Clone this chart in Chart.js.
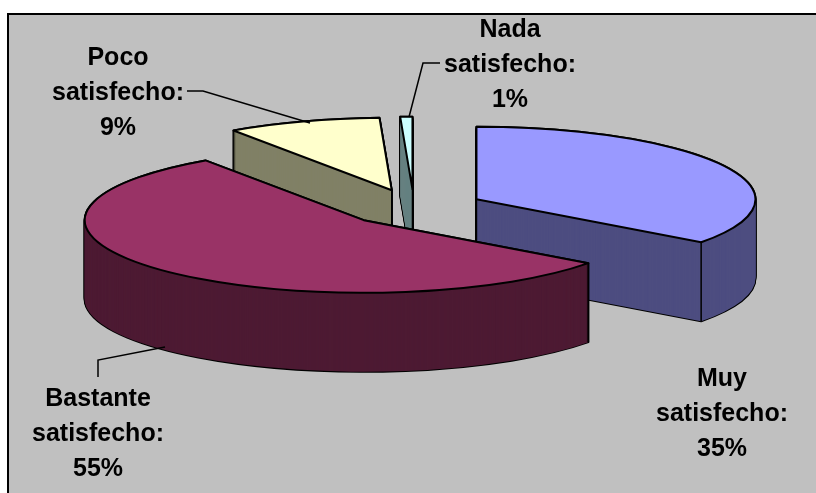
<!DOCTYPE html>
<html>
<head>
<meta charset="utf-8">
<style>
  html, body { margin: 0; padding: 0; background: #fff; }
  canvas { display: block; }
</style>
<script src="https://cdn.jsdelivr.net/npm/chart.js@4"></script>
</head>
<body>
<canvas id="chart" width="816" height="493"></canvas>
<script>
const categories = ['Muy satisfecho', 'Bastante satisfecho', 'Poco satisfecho', 'Nada satisfecho'];
const values = [35.1, 55.3, 8.9, 0.7];
const topColors = ['#9999ff', '#993366', '#ffffcc', '#ccffff'];
const sideColors = ['#4d4d80', '#4d1a33', '#808066', '#668080'];
const drawOrder = [3, 2, 0, 1];

const tilt = 0.26;
const depth = 79;
const explode = 70;

// label centres and leader lines, same order as categories
const labelPos = [[722, 378], [98, 398], [118, 57], [510, 29]];
const leaders = [
  null,
  [[98, 377], [98, 360], [165, 347]],
  [[187, 91], [203, 91], [310, 123]],
  [[440, 63], [423, 63], [409, 117]]
];

/* exploded shift of a slice, before squashing */
function shift(el) {
  const mid = (el.startAngle + el.endAngle) / 2;
  return [Math.cos(mid) * explode, Math.sin(mid) * explode];
}

/* slice outline, in the squashed space */
function slicePath(ctx, el, dy) {
  const s = shift(el);
  const x = el.x + s[0];
  const y = el.y + s[1] + dy / tilt;
  ctx.beginPath();
  ctx.moveTo(x, y);
  ctx.arc(x, y, el.outerRadius, el.startAngle, el.endAngle);
  ctx.closePath();
}

const pie3d = {
  id: 'pie3d',
  beforeDraw(chart) {
    const ctx = chart.ctx;
    ctx.save();
    ctx.fillStyle = '#c0c0c0';
    ctx.fillRect(8, 14, 808, 479);
    ctx.strokeStyle = '#000';
    ctx.lineWidth = 2;
    ctx.beginPath();
    ctx.moveTo(8, 493);
    ctx.lineTo(8, 14);
    ctx.lineTo(816, 14);
    ctx.stroke();
    ctx.restore();
  },
  beforeDatasetDraw(chart) {
    const ctx = chart.ctx;
    const meta = chart.getDatasetMeta(0);
    const squash = () => {
      const cy = meta.data[0].y;
      ctx.translate(0, cy);
      ctx.scale(1, tilt);
      ctx.translate(0, -cy);
    };
    ctx.save();
    ctx.lineJoin = 'round';
    ctx.strokeStyle = '#000';
    drawOrder.forEach(i => {
      const el = meta.data[i];

      // black outline of the whole extruded slice
      ctx.lineWidth = 2;
      for (let d = depth; d >= 0; d--) {
        ctx.save();
        squash();
        slicePath(ctx, el, d);
        ctx.restore();
        ctx.stroke();
      }
      // walls
      ctx.fillStyle = sideColors[i];
      for (let d = depth; d >= 0; d--) {
        ctx.save();
        squash();
        slicePath(ctx, el, d);
        ctx.fill();
        ctx.restore();
      }
      // vertical edges: apex and front corners only
      const s = shift(el);
      const ax = el.x + s[0];
      const ay = el.y + s[1];
      const corners = [];
      [el.startAngle, el.endAngle].forEach(a => {
        if (Math.sin(a) > 0) corners.push([ax + Math.cos(a) * el.outerRadius, ay + Math.sin(a) * el.outerRadius]);
      });
      if (el.endAngle - el.startAngle < Math.PI) corners.push([ax, ay]);
      ctx.lineWidth = 1.5;
      corners.forEach(c => {
        const py = el.y + (c[1] - el.y) * tilt;
        ctx.beginPath();
        ctx.moveTo(c[0], py);
        ctx.lineTo(c[0], py + depth);
        ctx.stroke();
      });

      // top face: the library's own arc
      ctx.save();
      squash();
      ctx.save();
      ctx.translate(s[0], s[1]);
      el.draw(ctx);
      ctx.restore();
      slicePath(ctx, el, 0);
      ctx.restore();
      ctx.lineWidth = 2;
      ctx.stroke();
    });
    ctx.restore();
    return false;
  },
  afterDraw(chart) {
    const ctx = chart.ctx;
    ctx.save();
    ctx.strokeStyle = '#000';
    ctx.lineWidth = 1.5;
    leaders.forEach(pts => {
      if (!pts) return;
      ctx.beginPath();
      pts.forEach((p, n) => n ? ctx.lineTo(p[0], p[1]) : ctx.moveTo(p[0], p[1]));
      ctx.stroke();
    });
    ctx.fillStyle = '#000';
    ctx.font = 'bold 25px "Liberation Sans", Arial, sans-serif';
    ctx.textAlign = 'center';
    ctx.textBaseline = 'middle';
    categories.forEach((name, i) => {
      const lines = name.split(' ');
      lines[1] += ':';
      lines.push(Math.round(values[i]) + '%');
      lines.forEach((t, n) => ctx.fillText(t, labelPos[i][0], labelPos[i][1] + 1 + n * 35));
    });
    ctx.restore();
  }
};

new Chart(document.getElementById('chart'), {
  type: 'pie',
  data: {
    labels: categories,
    datasets: [{
      data: values,
      backgroundColor: topColors,
      borderWidth: 0,
      radius: 279
    }]
  },
  options: {
    responsive: false,
    animation: false,
    radius: 279,
    layout: { padding: { left: 12, right: 0, top: 0, bottom: 78 } },
    plugins: { legend: { display: false }, tooltip: { enabled: false } }
  },
  plugins: [pie3d]
});
</script>
</body>
</html>
